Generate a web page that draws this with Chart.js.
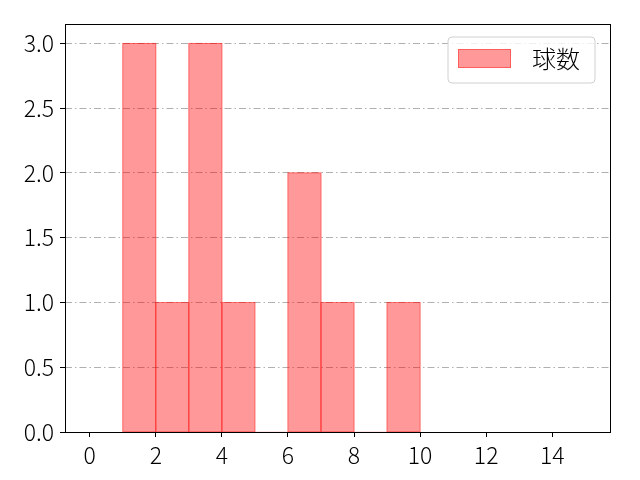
<!DOCTYPE html>
<html>
<head>
<meta charset="utf-8">
<script src="https://cdn.jsdelivr.net/npm/chart.js@4/dist/chart.umd.min.js"></script>
<style>
html,body{margin:0;padding:0;background:#fff;}
#wrap{width:640px;height:480px;}
</style>
</head>
<body>
<div id="wrap"><canvas id="c" width="640" height="480"></canvas></div>
<script>
const seriesName = "球数";
const binEdges = [1, 2, 3, 4, 5, 6, 7, 8, 9, 10];
const counts = [3, 1, 3, 1, 0, 2, 1, 0, 1];
const xTicks = [0, 2, 4, 6, 8, 10, 12, 14];
const yTicks = [0, 0.5, 1.0, 1.5, 2.0, 2.5, 3.0];

const FONT = "'Noto Sans CJK JP', 'Noto Sans', sans-serif";
const barFill = 'rgba(255,0,0,0.4)';
const barEdge = 'rgba(255,0,0,0.4)';

const points = counts.map((c, i) => ({x: (binEdges[i] + binEdges[i + 1]) / 2, y: c}));

const edgePlugin = {
  id: 'edges',
  afterDatasetsDraw(chart) {
    const {ctx} = chart;
    const meta = chart.getDatasetMeta(0);
    ctx.save();
    ctx.strokeStyle = barEdge;
    ctx.lineWidth = 1;
    meta.data.forEach((el, i) => {
      if (!counts[i]) return;
      const p = el.getProps(['x', 'y', 'base', 'width'], true);
      ctx.strokeRect(p.x - p.width / 2, p.y, p.width, p.base - p.y);
    });
    ctx.restore();
  }
};

const framePlugin = {
  id: 'frame',
  afterDraw(chart) {
    const {ctx, chartArea: a} = chart;
    ctx.save();
    ctx.strokeStyle = '#000';
    ctx.lineWidth = 1;
    ctx.strokeRect(Math.round(a.left) + 0.5, Math.round(a.top) + 0.5, Math.round(a.right - a.left), Math.round(a.bottom - a.top));
    // legend
    const bx = 448, by = 37, bw = 147, bh = 46, r = 4;
    ctx.beginPath();
    ctx.moveTo(bx + r, by);
    ctx.arcTo(bx + bw, by, bx + bw, by + bh, r);
    ctx.arcTo(bx + bw, by + bh, bx, by + bh, r);
    ctx.arcTo(bx, by + bh, bx, by, r);
    ctx.arcTo(bx, by, bx + bw, by, r);
    ctx.closePath();
    ctx.fillStyle = 'rgba(255,255,255,0.8)';
    ctx.fill();
    ctx.strokeStyle = '#d0d0d0';
    ctx.stroke();
    ctx.fillStyle = barFill;
    ctx.fillRect(458, 49, 53, 19);
    ctx.strokeStyle = barEdge;
    ctx.strokeRect(458.5, 49.5, 52, 18);
    ctx.fillStyle = '#000';
    ctx.font = '300 24px ' + FONT;
    ctx.textBaseline = 'middle';
    ctx.textAlign = 'left';
    ctx.fillText(seriesName, 532, 59);
    ctx.restore();
  }
};

new Chart(document.getElementById('c'), {
  type: 'bar',
  data: {
    datasets: [{
      label: seriesName,
      data: points,
      backgroundColor: barFill,
      borderWidth: 0,
      barPercentage: 1,
      categoryPercentage: 1,
      grouped: false
    }]
  },
  options: {
    responsive: false,
    animation: false,
    devicePixelRatio: 1,
    layout: {padding: {left: 0, top: 24, right: 30, bottom: 0}},
    plugins: {legend: {display: false}, tooltip: {enabled: false}},
    scales: {
      x: {
        type: 'linear',
        min: -0.75,
        max: 15.75,
        offset: false,
        afterBuildTicks(s) { s.ticks = xTicks.map(v => ({value: v})); },
        afterFit(s) { s.height = 48; },
        grid: {display: true, drawOnChartArea: false, drawTicks: true, tickLength: 5, tickColor: '#000', offset: false},
        border: {display: false},
        ticks: {color: '#000', font: {family: FONT, size: 23, weight: '300'}, padding: 4, maxRotation: 0, autoSkip: false, callback: v => String(v)}
      },
      y: {
        min: 0,
        max: 3.15,
        afterBuildTicks(s) { s.ticks = yTicks.map(v => ({value: v})); },
        afterFit(s) { s.width = 65; },
        grid: {color: '#b0b0b0', lineWidth: 1, drawTicks: true, tickLength: 5, tickColor: '#000', tickBorderDash: []},
        border: {display: false, dash: [7, 3, 1.5, 3]},
        ticks: {color: '#000', font: {family: FONT, size: 23, weight: '300'}, padding: 6, autoSkip: false, callback: v => Number(v).toFixed(1)}
      }
    }
  },
  plugins: [edgePlugin, framePlugin]
});
</script>
</body>
</html>
